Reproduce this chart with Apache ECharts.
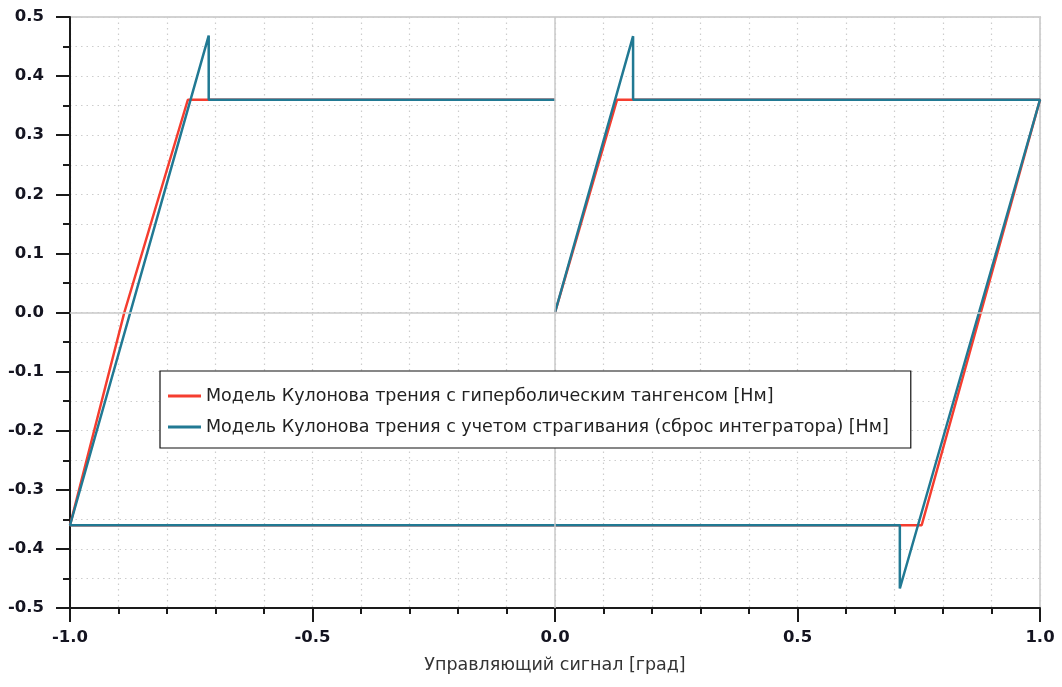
<!DOCTYPE html>
<html>
<head>
<meta charset="utf-8">
<script src="https://cdn.jsdelivr.net/npm/echarts@6/dist/echarts.min.js"></script>
<style>
  html, body { margin: 0; padding: 0; background: #ffffff; }
  #chart { width: 1062px; height: 687px; }
</style>
</head>
<body>
<div id="chart"></div>
<script>
// Friction torque vs. control signal: two Coulomb friction models
const seriesNames = [
  'Модель Кулонова трения с гиперболическим тангенсом [Нм]',
  'Модель Кулонова трения с учетом страгивания (сброс интегратора) [Нм]'
];
const xAxisTitle = 'Управляющий сигнал [град]';

// hyperbolic tangent model (input sweep 0 -> 1 -> -1 -> 0)
const tanhX = [0.0, 0.128, 1.0, 0.878, 0.756, -1.0, -0.888, -0.757, 0.0];
const tanhY = [0.0, 0.36, 0.36, 0.0, -0.36, -0.36, 0.0, 0.36, 0.36];

// breakaway model with integrator reset
const resetX = [0.0, 0.161, 0.161, 1.0, 0.711, 0.711, -1.0, -0.714, -0.714, 0.0];
const resetY = [0.0, 0.4675, 0.36, 0.36, -0.467, -0.36, -0.36, 0.4685, 0.36, 0.36];

const xTickLabels = ['-1.0', '-0.5', '0.0', '0.5', '1.0'];
const yTickLabels = ['-0.5', '-0.4', '-0.3', '-0.2', '-0.1', '0.0', '0.1', '0.2', '0.3', '0.4', '0.5'];

const zip = (xs, ys) => xs.map((x, i) => [x, ys[i]]);

const axisColor = '#1a1a1a';
const gridDots = { color: '#cdcdcd', width: 1.2, type: [1.5, 4] };
const labelFont = { fontFamily: 'DejaVu Sans', fontWeight: 'bold', fontSize: 16.5, color: '#141420' };

const chart = echarts.init(document.getElementById('chart'), null, { renderer: 'canvas' });
chart.setOption({
  animation: false,
  backgroundColor: '#ffffff',
  grid: {
    left: 70, right: 22, top: 17, bottom: 79,
    show: true, borderColor: '#d2d2d2', borderWidth: 2, backgroundColor: 'transparent'
  },
  xAxis: {
    type: 'value', min: -1, max: 1, interval: 0.5,
    name: xAxisTitle, nameLocation: 'middle', nameGap: 48,
    nameTextStyle: { fontFamily: 'DejaVu Sans', fontSize: 17.5, color: '#333333' },
    axisLine: { show: true, onZero: false, lineStyle: { color: axisColor, width: 2 } },
    axisTick: { show: true, length: 14, lineStyle: { color: axisColor, width: 2 } },
    minorTick: { show: true, splitNumber: 5, length: 6, lineStyle: { color: axisColor, width: 2 } },
    axisLabel: Object.assign({
      margin: 21,
      formatter: v => xTickLabels.find(t => Math.abs(parseFloat(t) - v) < 1e-9) || ''
    }, labelFont),
    splitLine: { show: true, lineStyle: gridDots },
    minorSplitLine: { show: true, lineStyle: gridDots }
  },
  yAxis: {
    type: 'value', min: -0.5, max: 0.5, interval: 0.1,
    axisLine: { show: true, onZero: false, lineStyle: { color: axisColor, width: 2 } },
    axisTick: { show: true, length: 14, lineStyle: { color: axisColor, width: 2 } },
    minorTick: { show: true, splitNumber: 2, length: 7, lineStyle: { color: axisColor, width: 2 } },
    axisLabel: Object.assign({
      margin: 26,
      formatter: v => yTickLabels.find(t => Math.abs(parseFloat(t) - v) < 1e-9) || ''
    }, labelFont),
    splitLine: { show: true, lineStyle: gridDots },
    minorSplitLine: { show: true, lineStyle: gridDots }
  },
  legend: {
    left: 160, top: 371, z: 20,
    orient: 'vertical',
    backgroundColor: '#ffffff',
    borderColor: '#111111', borderWidth: 1.2, borderRadius: 0,
    padding: [15, 22, 11, 8],
    itemGap: 11,
    itemWidth: 33, itemHeight: 3,
    icon: 'rect',
    textStyle: { fontFamily: 'DejaVu Sans', fontSize: 17.5, color: '#222222', lineHeight: 20 },
    data: seriesNames
  },
  series: [
    {
      // zero reference lines
      type: 'line', data: [], silent: true, z: 1,
      markLine: {
        silent: true, symbol: 'none', label: { show: false },
        lineStyle: { color: '#c8c8c8', type: 'solid', width: 1.5 },
        data: [{ xAxis: 0 }, { yAxis: 0 }]
      }
    },
    {
      name: seriesNames[0], type: 'line', z: 3,
      data: zip(tanhX, tanhY),
      showSymbol: false, symbol: 'none',
      color: '#f53d2f',
      lineStyle: { color: '#f53d2f', width: 2.5 }
    },
    {
      name: seriesNames[1], type: 'line', z: 4,
      data: zip(resetX, resetY),
      showSymbol: false, symbol: 'none',
      color: '#217993',
      lineStyle: { color: '#217993', width: 2.5 }
    }
  ]
});
</script>
</body>
</html>
